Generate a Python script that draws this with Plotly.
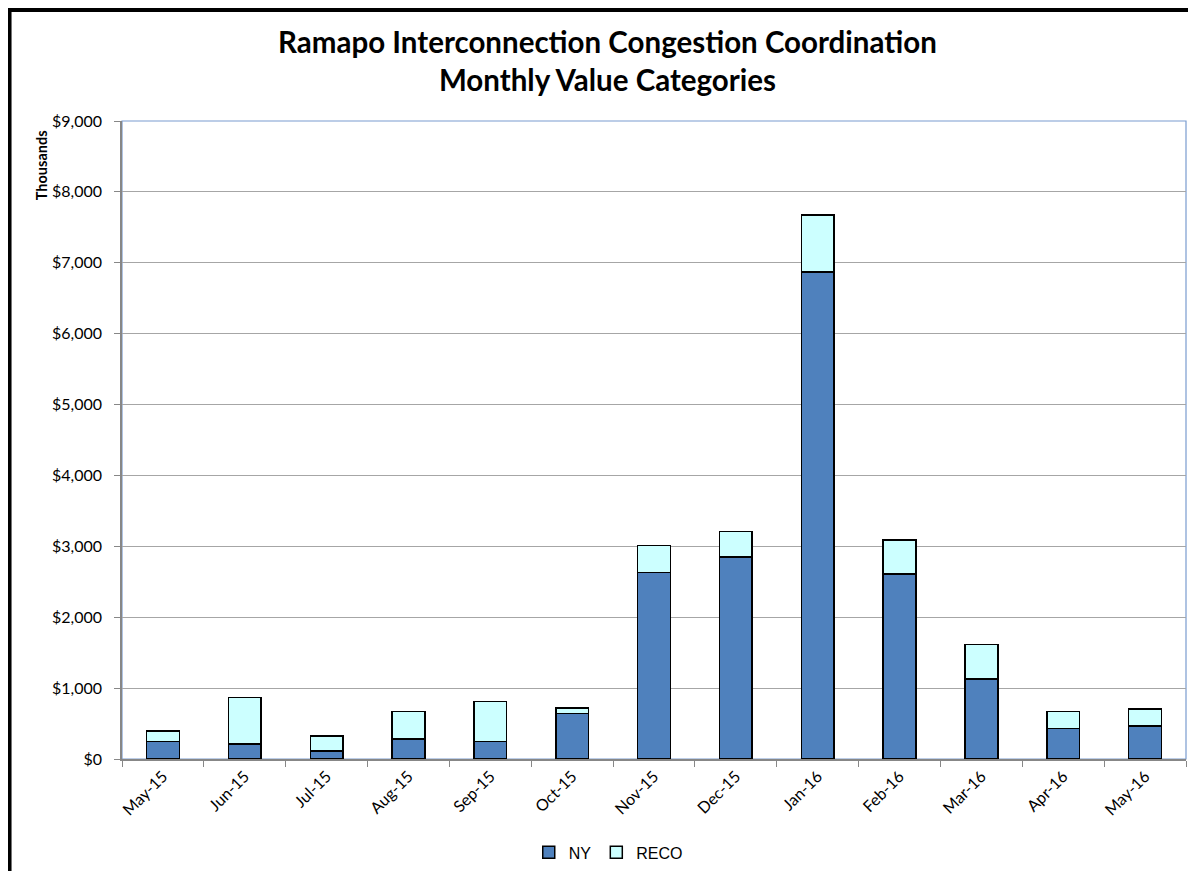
import plotly.graph_objects as go

# monthly values, thousands of dollars
months = ["May-15", "Jun-15", "Jul-15", "Aug-15", "Sep-15", "Oct-15", "Nov-15",
          "Dec-15", "Jan-16", "Feb-16", "Mar-16", "Apr-16", "May-16"]
ny = [249, 213, 110, 282, 249, 645, 2628, 2849, 6873, 2609, 1127, 428, 467]
reco = [147, 657, 213, 386, 562, 73, 386, 357, 803, 480, 486, 242, 236]

y_ticks = [0, 1000, 2000, 3000, 4000, 5000, 6000, 7000, 8000, 9000]
y_tick_text = ["$" + format(v, ",") for v in y_ticks]

fig = go.Figure()
fig.add_trace(go.Bar(x=months, y=ny, name="NY", width=0.4,
                     marker=dict(color="#4F81BD", line=dict(color="#000000", width=1.5))))
fig.add_trace(go.Bar(x=months, y=reco, name="RECO", width=0.4,
                     marker=dict(color="#CCFFFF", line=dict(color="#000000", width=1.5))))

# page body has an 8px margin; figure is taller than the window so the
# legend never pushes the bottom margin
fig.update_layout(
    width=1188, height=900,
    barmode="stack",
    paper_bgcolor="white", plot_bgcolor="white",
    margin=dict(l=114, r=10, t=113, b=148.5),
    font=dict(family="Lato, Arial", color="#000000"),
    title=dict(text="<b>Ramapo Interconnection Congestion Coordination<br>Monthly Value Categories</b>",
               x=0.5046, xanchor="center", y=1 - 45 / 900, yanchor="middle",
               font=dict(family="Lato", size=29.5, color="#000000")),
    legend=dict(orientation="h", x=0.457, xanchor="center", y=-0.1465, yanchor="middle",
                font=dict(family="Liberation Sans, Arial", size=16), itemwidth=30,
                traceorder="normal"),
    showlegend=True,
)

fig.update_xaxes(
    type="category", tickangle=-45, tickfont=dict(family="Lato", size=16, color="#000000"),
    showline=True, linecolor="#878787", linewidth=1.5, automargin=False,
    ticks="outside", tickson="boundaries", ticklen=6, tickcolor="#878787",
    showgrid=False,
)
fig.update_yaxes(
    range=[0, 9000], tickvals=y_ticks, ticktext=y_tick_text, automargin=False,
    tickfont=dict(family="Lato", size=16, color="#000000"),
    showline=True, linecolor="#878787", linewidth=1.5,
    ticks="outside", ticklen=6, tickcolor="#878787", ticklabelstandoff=9,
    showgrid=True, gridcolor="#A6A6A6", gridwidth=1.2, zeroline=False,
)

# plot area border (blue) and outer chart frame
fig.add_shape(type="rect", xref="paper", yref="paper", x0=0, x1=1, y0=0, y1=1,
              line=dict(color="#7A9CCF", width=1.2), layer="below")
fig.add_shape(type="rect", xref="paper", yref="paper", x0=-0.1057, x1=1.02, y0=-0.25, y1=1.174,
              line=dict(color="#000000", width=4), layer="above")

fig.add_annotation(text="<b>Thousands</b>", xref="paper", yref="paper",
                   x=-0.0761, y=0.9307, xanchor="center", yanchor="middle",
                   textangle=-90, showarrow=False,
                   font=dict(family="Lato", size=14.5, color="#000000"))

fig.write_html("out.html")
